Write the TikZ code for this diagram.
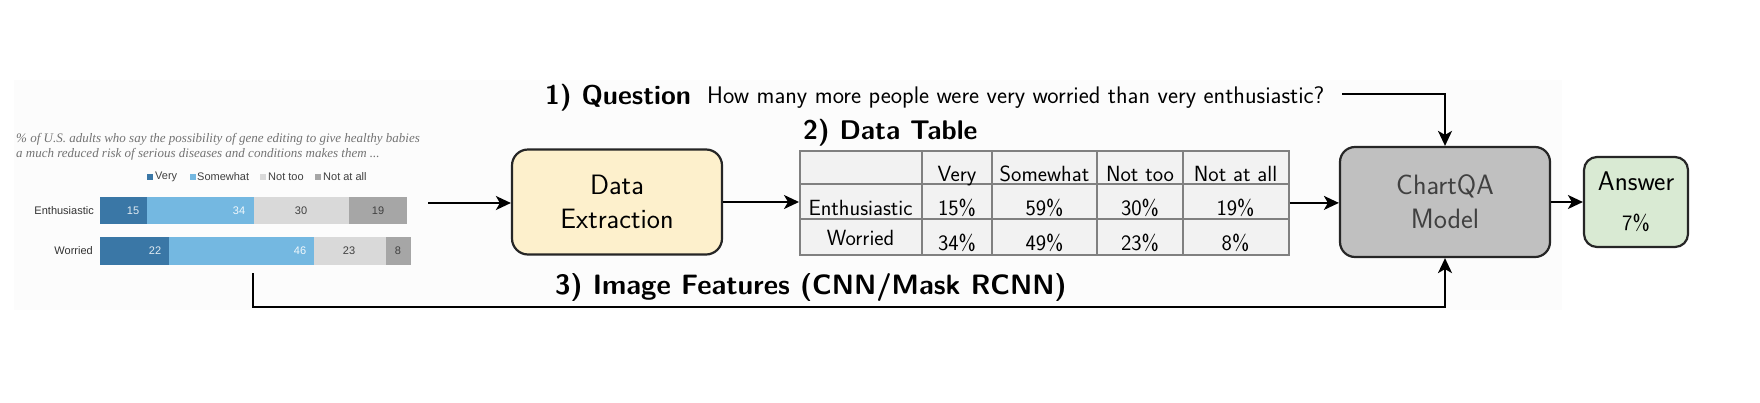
\documentclass[tikz,border=0pt]{standalone}
\usepackage{fontspec}
\newfontfamily\chartsans{Liberation Sans}
\newfontfamily\chartserif{Liberation Serif}
\usetikzlibrary{arrows.meta}
\definecolor{extractfill}{HTML}{FDF0CC}
\definecolor{modelfill}{HTML}{C0C0C0}
\definecolor{modeltext}{HTML}{404040}
\definecolor{answerfill}{HTML}{D9EAD3}
\definecolor{verycol}{HTML}{3A77A6}
\definecolor{somecol}{HTML}{74B8E1}
\definecolor{nottoocol}{HTML}{D9D9D9}
\definecolor{notallcol}{HTML}{A6A6A6}
\definecolor{tablefill}{HTML}{F2F2F2}
\definecolor{tableline}{HTML}{808080}
\definecolor{bgfill}{HTML}{FCFCFC}
\begin{document}
\begin{tikzpicture}[x=1pt,y=-1pt,
  arr/.style={draw=black, line width=2pt, -{Stealth[length=15pt,width=14pt,inset=4pt]}},
  procbox/.style={draw=black!85, line width=2.2pt, rounded corners=16pt, align=center,
    font=\sffamily\fontsize{28}{34}\selectfont, inner sep=0pt},
  tcell/.style={anchor=base, font=\sffamily\fontsize{22}{24}\selectfont, inner sep=0pt},
  steplabel/.style={font=\sffamily\bfseries\fontsize{28}{32}\selectfont, anchor=base west, inner sep=0pt},
  barval/.style={font=\chartsans\fontsize{11}{12}\selectfont, inner sep=0pt},
  legtext/.style={font=\chartsans\fontsize{11}{12}\selectfont, text=black!75, anchor=west, inner sep=0pt},
  rowlab/.style={font=\chartsans\fontsize{11}{12}\selectfont, text=black!80, anchor=east, inner sep=0pt},
  ctitle/.style={font=\chartserif\itshape\fontsize{13}{15}\selectfont, text=black!55, anchor=base west, inner sep=0pt}
]
\useasboundingbox (0,0) rectangle (1760,402);
\fill[white] (0,0) rectangle (1760,402);
\fill[bgfill] (14,80) rectangle (1562,310);

% ---- chart ----
\node[ctitle] (ct1) at (16,142) {\% of U.S. adults who say the possibility of gene editing to give healthy babies};
\node[ctitle] (ct2) at (16,157) {a much reduced risk of serious diseases and conditions makes them ...};

\fill[verycol] (147,174) rectangle (153,180);
\node[legtext] (lg1) at (155,177) {Very};
\fill[somecol] (190,174) rectangle (196,180);
\node[legtext] (lg2) at (197,177) {Somewhat};
\fill[nottoocol] (260,174) rectangle (266,180);
\node[legtext] (lg3) at (268,177) {Not too};
\fill[notallcol] (315,174) rectangle (321,180);
\node[legtext] (lg4) at (323,177) {Not at all};

\node[rowlab] (r1) at (94,211) {Enthusiastic};
\node[rowlab] (r2) at (93,251) {Worried};

\fill[verycol] (100,197) rectangle (147,224);
\fill[somecol] (147,197) rectangle (254,224);
\fill[nottoocol] (254,197) rectangle (349,224);
\fill[notallcol] (349,197) rectangle (407,224);
\fill[verycol] (100,237) rectangle (169,265);
\fill[somecol] (169,237) rectangle (314,265);
\fill[nottoocol] (314,237) rectangle (386,265);
\fill[notallcol] (386,237) rectangle (411,265);

\node[barval, text=white!85!verycol] (v1) at (133,211) {15};
\node[barval, text=white!90!somecol] (v2) at (239,211) {34};
\node[barval, text=black!75] (v3) at (301,211) {30};
\node[barval, text=black!75] (v4) at (378,211) {19};
\node[barval, text=white!85!verycol] (v5) at (155,251) {22};
\node[barval, text=white!90!somecol] (v6) at (300,251) {46};
\node[barval, text=black!75] (v7) at (349,251) {23};
\node[barval, text=black!75] (v8) at (398,251) {8};

\coordinate (chartout) at (428,203);
\coordinate (featstart) at (253,273);

% ---- labels ----
\node[steplabel, font=\sffamily\bfseries\fontsize{27}{32}\selectfont] (q1) at (545,104) {1) Question};
\node[anchor=base west, inner sep=0pt, font=\sffamily\fontsize{24}{26}\selectfont] (qtext) at (707,103)
  {How many more people were very worried than very enthusiastic?};
\coordinate (qstart) at (1342,94);
\node[font=\sffamily\bfseries\fontsize{27}{30}\selectfont, anchor=base west, inner sep=0pt] (q2) at (803,139) {2) Data Table};
\node[steplabel] (q3) at (555,294) {3) Image Features (CNN/Mask RCNN)};

% ---- boxes ----
\node[procbox, fill=extractfill, minimum width=210pt, minimum height=105pt] (ext) at (617,202) {Data\\Extraction};
\node[procbox, fill=modelfill, text=modeltext, minimum width=210pt, minimum height=110pt, rounded corners=15pt] (model) at (1445,202) {ChartQA\\Model};
\node[procbox, fill=answerfill, minimum width=104pt, minimum height=90pt, rounded corners=13pt] (ans) at (1636,202)
  {{\fontsize{27}{30}\selectfont Answer}\\[6pt]{\fontsize{22}{24}\selectfont 7\%}};

% ---- table ----
\node[draw=tableline, fill=tablefill, line width=1.8pt, minimum width=489pt, minimum height=104pt, inner sep=0pt, anchor=north west] (tbl) at (799,150) {};
\foreach \xx in {922,992,1097,1183}{\draw[tableline, line width=1.8pt] (\xx,150) -- (\xx,254);}
\foreach \yy in {184,219}{\draw[tableline, line width=1.8pt] (799,\yy) -- (1288,\yy);}
\node[tcell] (h1) at (957,181) {Very};
\node[tcell] (h2) at (1044.5,181) {Somewhat};
\node[tcell] (h3) at (1140,181) {Not too};
\node[tcell] (h4) at (1235.5,181) {Not at all};
\node[tcell] (e0) at (860.5,215) {Enthusiastic};
\node[tcell] (e1) at (957,215) {15\%};
\node[tcell] (e2) at (1044.5,215) {59\%};
\node[tcell] (e3) at (1140,215) {30\%};
\node[tcell] (e4) at (1235.5,215) {19\%};
\node[tcell] (w0) at (860.5,245) {Worried};
\node[tcell] (w1) at (957,250) {34\%};
\node[tcell] (w2) at (1044.5,250) {49\%};
\node[tcell] (w3) at (1140,250) {23\%};
\node[tcell] (w4) at (1235.5,250) {8\%};

% ---- connectors ----
\draw[arr] (chartout) -- (chartout -| ext.west);
\draw[arr] (ext.east) -- (ext.east -| tbl.west);
\draw[arr] (tbl.east) -- (tbl.east -| model.west);
\draw[arr] (model.east) -- (ans.west);
\draw[arr] (qstart) -| (model.north);
\draw[arr] (featstart) -- ++(0,34) -| (model.south);
\end{tikzpicture}
\end{document}
